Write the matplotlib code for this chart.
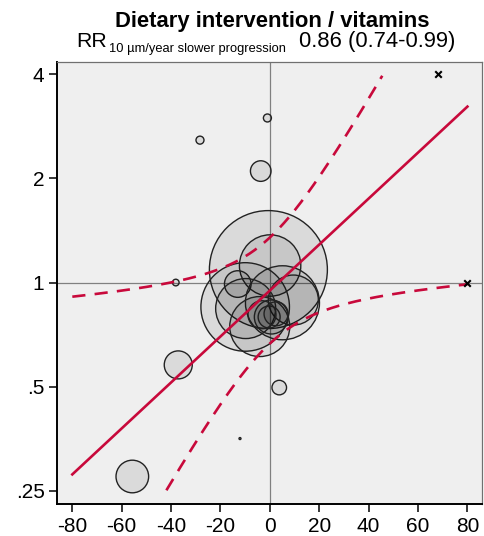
import matplotlib
matplotlib.use('Agg')
import matplotlib.pyplot as plt
import numpy as np

plt.rcParams['font.family'] = ['Liberation Sans', 'DejaVu Sans']

# studies: x = difference in progression (µm/year), y = relative risk, w = weight
study_x = [-38.1, -28.3, -1.0, -3.7, -37.1, -55.7, 3.8, -12.1,
           -0.6, 0.1, -13.0, -10.0, 5.1, 9.5, -9.8, -4.1, 0.6, -0.3, -3.2, 2.5]
study_rr = [1.00, 2.58, 2.99, 2.10, 0.578, 0.275, 0.497, 0.354,
            1.09, 1.12, 0.99, 0.85, 0.874, 0.89, 0.841, 0.746, 0.795, 0.795, 0.807, 0.812]
study_w = [0.11, 0.16, 0.16, 1.06, 1.96, 2.66, 0.53, 0.01,
           34.8, 9.42, 1.77, 19.6, 13.7, 6.25, 9.0, 9.0, 2.89, 1.21, 1.96, 1.44]

# studies outside plot range
out_x = [68, 80]
out_rr = [4, 1]

# meta-regression (log RR = b0 + b1 * x)
b0, b1 = -0.053, 0.0153
se_b0, se_b1 = 0.18, 0.0072
crit = 1.96

xticks = [-80, -60, -40, -20, 0, 20, 40, 60, 80]
yticks = [0.25, 0.5, 1, 2, 4]
ylabels = ['.25', '.5', '1', '2', '4']

title = 'Dietary intervention / vitamins'
sub_main = 'RR'
sub_idx = '10 µm/year slower progression'
sub_val = '0.86 (0.74-0.99)'

red = '#c8093b'
W, H = 484, 536

fig = plt.figure(figsize=(4.84, 5.36), dpi=100)
ax = fig.add_axes([57/W, 1-504/H, 425/W, 442/H])
ax.set_facecolor('#efefef')

ax.axhline(1, color='#808080', lw=0.9, zorder=1)
ax.axvline(0, color='#808080', lw=0.9, zorder=1)

ax.scatter(study_x, study_rr, s=np.array(study_w)*207.36,
           facecolors=(0, 0, 0, 0.085), edgecolors='#222222', linewidths=1.0, zorder=2)
ax.scatter(out_x, out_rr, marker='x', s=22, c='k', linewidths=1.5, zorder=4)

xs = np.linspace(-80, 80, 400)
fit = b0 + b1*xs
hw = crit*np.sqrt(se_b0**2 + (xs*se_b1)**2)
lo = np.exp(fit - hw)
hi = np.exp(fit + hw)
lo[(lo < 0.25) | (lo > 4)] = np.nan
hi[(hi < 0.25) | (hi > 4)] = np.nan

ax.plot(xs, np.exp(fit), color=red, lw=1.9, zorder=3)
ax.plot(xs, lo, color=red, lw=1.9, ls=(0, (5, 3.5)), zorder=3)
ax.plot(xs, hi, color=red, lw=1.9, ls=(0, (5, 3.5)), zorder=3)

ax.set_yscale('log', base=2)
ax.set_xlim(-86.2, 85.9)
ax.set_ylim(0.229, 4.34)
ax.set_yticks(yticks)
ax.set_yticklabels(ylabels)
ax.yaxis.set_minor_locator(matplotlib.ticker.NullLocator())
ax.set_xticks(xticks)
ax.set_xticklabels([str(v) for v in xticks])
ax.tick_params(labelsize=15, length=6, width=1.1, pad=3, colors='k')

for s in ['left', 'bottom']:
    ax.spines[s].set_linewidth(1.4)
for s in ['top', 'right']:
    ax.spines[s].set_color('#707070')
    ax.spines[s].set_linewidth(0.9)

# titles
fig.text(272/W, 1-26.7/H, title, ha='center', va='baseline',
         fontsize=15.8, fontweight='bold')
fig.text(76/W, 1-46.7/H, sub_main, ha='left', va='baseline', fontsize=15.3)
fig.text(109/W, 1-51.7/H, sub_idx, ha='left', va='baseline', fontsize=9.3)
fig.text(455/W, 1-46.7/H, sub_val, ha='right', va='baseline', fontsize=15.8)

fig.savefig('out.png', dpi=100)
